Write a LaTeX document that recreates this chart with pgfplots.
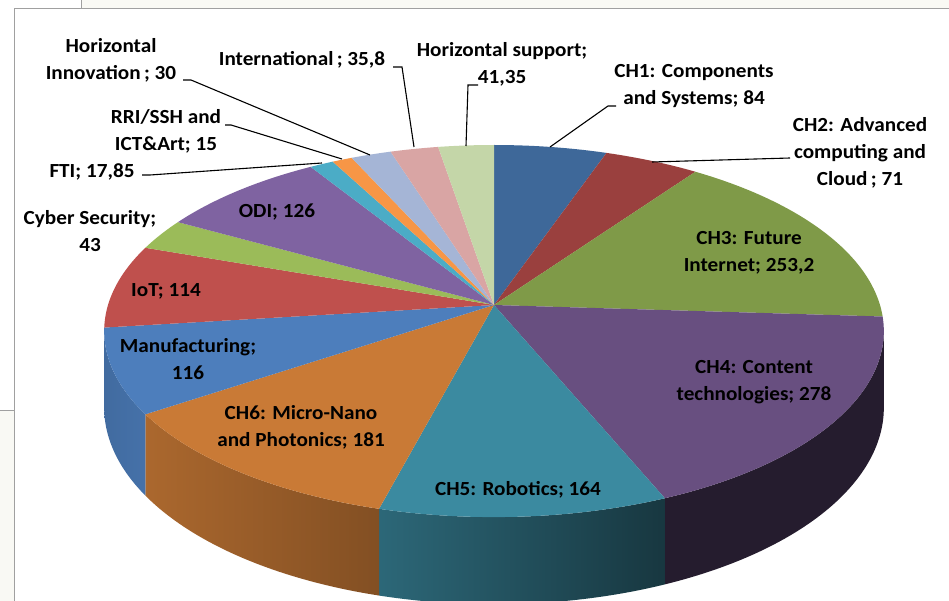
\documentclass[border=0pt]{standalone}
\usepackage{pgfplots}
\pgfplotsset{compat=1.18}
\usepackage{pgfplotstable}
\usepackage{fontspec}
\setmainfont{Carlito}[FakeStretch=1.06]

\definecolor{cA}{HTML}{3E6899}
\definecolor{cB}{HTML}{9A403E}
\definecolor{cC}{HTML}{7F9A48}
\definecolor{cD}{HTML}{684F80}
\definecolor{cE}{HTML}{3B8AA0}
\definecolor{cF}{HTML}{C97A36}
\definecolor{cG}{HTML}{4D7EBC}
\definecolor{cH}{HTML}{BF504D}
\definecolor{cI}{HTML}{9BBB59}
\definecolor{cJ}{HTML}{7F63A1}
\definecolor{cK}{HTML}{4BACC6}
\definecolor{cL}{HTML}{F79646}
\definecolor{cM}{HTML}{A5B5D6}
\definecolor{cN}{HTML}{D9A5A4}
\definecolor{cO}{HTML}{C4D6A8}
\definecolor{frame}{HTML}{A0A0A0}
\definecolor{offw}{HTML}{F9F9F4}

\tikzset{lbl/.style={font=\fontsize{20}{27}\selectfont\bfseries, align=center, inner sep=0pt, text=black}}

\pgfplotstableread{
label value
CH1 84
CH2 71
CH3 253.2
CH4 278
CH5 164
CH6 181
Manufacturing 116
IoT 114
Cyber 43
ODI 126
FTI 17.85
RRI 15
HorInn 30
Intl 35.8
HorSup 41.35
}\piedata

% cumulative angles (degrees, clockwise from 12 o'clock)
\xdef\total{0}
\foreach \i in {0,...,14}{%
  \pgfplotstablegetelem{\i}{value}\of\piedata
  \pgfmathsetmacro\tmp{\total+\pgfplotsretval}%
  \xdef\total{\tmp}}
\expandafter\xdef\csname A0\endcsname{0}
\xdef\cum{0}
\foreach \i in {0,...,14}{%
  \pgfplotstablegetelem{\i}{value}\of\piedata
  \pgfmathsetmacro\c{\cum+\pgfplotsretval}%
  \xdef\cum{\c}%
  \pgfmathsetmacro\ang{\c/\total*360}%
  \pgfmathtruncatemacro\j{\i+1}%
  \expandafter\xdef\csname A\j\endcsname{\ang}}
\newcommand\A[1]{\csname A#1\endcsname}

\newcommand\topslice[3]{%
  \addplot[fill=#3, draw=none, domain=-1:61, samples=63, variable=\t]
   ({(\t<-0.5 || \t>60.5) ? 494 : px((#1)+((#2)-(#1))*min(max(\t,0),60)/60)},
    {(\t<-0.5 || \t>60.5) ? 305 : py((#1)+((#2)-(#1))*min(max(\t,0),60)/60)});
}
\newcommand\sideslice[3]{%
  \addplot[#3, draw=none, domain=0:121, samples=122, variable=\t]
   ({\t<60.5 ? px((#1)+((#2)-(#1))*min(\t,60)/60) : px((#2)-((#2)-(#1))*max(\t-61,0)/60)},
    {\t<60.5 ? py((#1)+((#2)-(#1))*min(\t,60)/60) : py((#2)-((#2)-(#1))*max(\t-61,0)/60)+75/(1+0.14*cos((#2)-((#2)-(#1))*max(\t-61,0)/60))});
}

\begin{document}
\begin{tikzpicture}[declare function={px(\a)=494+386*sin(\a)/(1+0.14*cos(\a));
                                      py(\a)=305-182.4*cos(\a)/(1+0.14*cos(\a));}]
\begin{axis}[x=1pt, y=1pt, xmin=0, xmax=949, ymin=0, ymax=601, y dir=reverse,
  hide axis, scale only axis, clip=true]
% background and slide frame
\fill[white] (axis cs:0,0) rectangle (axis cs:949,601);
\fill[offw] (axis cs:81,0) rectangle (axis cs:949,8.5);
\fill[offw] (axis cs:0,410) rectangle (axis cs:14,601);
\draw[frame, line width=1pt] (axis cs:14,601) -- (axis cs:14,8.5) -- (axis cs:949,8.5);
\draw[frame, line width=1pt] (axis cs:81,0) -- (axis cs:81,8.5);
\draw[frame, line width=1pt] (axis cs:0,410) -- (axis cs:14,410);

% sides (visible front part)
\sideslice{max(\A{3},98.05)}{\A{4}}{fill=black!20!cD!45!black}
\sideslice{\A{4}}{\A{5}}{left color=cE!75!black, right color=cE!40!black}
\sideslice{\A{5}}{\A{6}}{left color=cF!85!black, right color=cF!65!black}
\sideslice{\A{6}}{min(\A{7},261.95)}{left color=cG!85!black, right color=cG!90!black}

% top faces
\topslice{\A{0}}{\A{1}}{cA}
\topslice{\A{1}}{\A{2}}{cB}
\topslice{\A{2}}{\A{3}}{cC}
\topslice{\A{3}}{\A{4}}{cD}
\topslice{\A{4}}{\A{5}}{cE}
\topslice{\A{5}}{\A{6}}{cF}
\topslice{\A{6}}{\A{7}}{cG}
\topslice{\A{7}}{\A{8}}{cH}
\topslice{\A{8}}{\A{9}}{cI}
\topslice{\A{9}}{\A{10}}{cJ}
\topslice{\A{10}}{\A{11}}{cK}
\topslice{\A{11}}{\A{12}}{cL}
\topslice{\A{12}}{\A{13}}{cM}
\topslice{\A{13}}{\A{14}}{cN}
\topslice{\A{14}}{\A{15}}{cO}

% leader lines
\addplot[black, line width=1.1pt, mark=none] coordinates {(183,80) (191,80) (370,155)};
\addplot[black, line width=1.1pt, mark=none] coordinates {(393,67) (402,67) (414,147)};
\addplot[black, line width=1.1pt, mark=none] coordinates {(478,85) (468,85) (466,146)};
\addplot[black, line width=1.1pt, mark=none] coordinates {(616,106) (608,106) (550,147)};
\addplot[black, line width=1.1pt, mark=none] coordinates {(790,158) (652,162)};
\addplot[black, line width=1.1pt, mark=none] coordinates {(225,125) (231,125) (342,159)};
\addplot[black, line width=1.1pt, mark=none] coordinates {(142,175) (150,175) (322,163)};

% labels
\node[lbl] at (axis cs:111,60) {Horizontal\\Innovation\,; 30};
\node[lbl] at (axis cs:302,60) {International\,; 35,8};
\node[lbl] at (axis cs:502,64) {Horizontal support;\\41,35};
\node[lbl] at (axis cs:694,86) {CH1: Components\\and Systems; 84};
\node[lbl] at (axis cs:860,153) {CH2: Advanced\\computing and\\Cloud\,; 71};
\node[lbl] at (axis cs:166,131) {RRI/SSH and\\ICT\&Art; 15};
\node[lbl] at (axis cs:92,172) {FTI; 17,85};
\node[lbl] at (axis cs:90,231) {Cyber Security;\\43};
\node[lbl] at (axis cs:277,212) {ODI; 126};
\node[lbl] at (axis cs:166,291) {IoT; 114};
\node[lbl] at (axis cs:188,359) {Manufacturing;\\116};
\node[lbl] at (axis cs:749,253) {CH3: Future\\Internet; 253,2};
\node[lbl] at (axis cs:754,382) {CH4: Content\\technologies; 278};
\node[lbl] at (axis cs:301,427) {CH6: Micro-Nano\\and Photonics; 181};
\node[lbl] at (axis cs:518,490) {CH5: Robotics; 164};
\end{axis}
\end{tikzpicture}
\end{document}
